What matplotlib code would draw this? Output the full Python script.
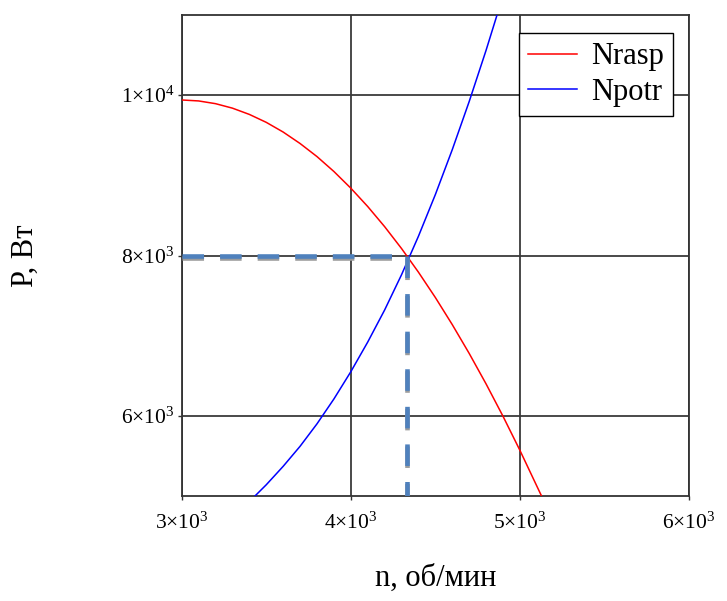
import numpy as np
import matplotlib
matplotlib.use("Agg")
import matplotlib.pyplot as plt
import matplotlib.patheffects as pe
from matplotlib.ticker import FuncFormatter

plt.rcParams["font.family"] = ["Liberation Serif", "DejaVu Serif"]
plt.rcParams["mathtext.fontset"] = "custom"
plt.rcParams["mathtext.rm"] = "Liberation Serif"
plt.rcParams["mathtext.it"] = "Liberation Serif:italic"

# частота вращения, об/мин
n_rasp = [3000, 3100, 3200, 3300, 3400, 3500, 3600, 3700, 3800, 3900, 4000,
          4100, 4200, 4300, 4400, 4500, 4600, 4700, 4800, 4900, 5000, 5100, 5200]
# располагаемая мощность, Вт
N_rasp = [9940, 9928, 9894, 9838, 9760, 9661, 9540, 9397, 9234, 9048, 8840,
          8611, 8360, 8087, 7792, 7476, 7138, 6779, 6398, 5995, 5570, 5124, 4680]

n_potr = [3400, 3500, 3600, 3700, 3800, 3900, 4000, 4100, 4200, 4300,
          4400, 4500, 4600, 4700, 4800, 4900]
# потребная мощность, Вт
N_potr = [4930, 5140, 5370, 5620, 5900, 6210, 6550, 6920, 7320, 7760,
          8240, 8760, 9320, 9920, 10560, 11240]

# рабочая точка
n_op = 4335
P_op = 8000

x_ticks = [3000, 4000, 5000, 6000]
y_ticks = [6000, 8000, 10000]


def sci(v, pos):
    e = int(np.floor(np.log10(v)))
    m = v / 10 ** e
    return r"$%g{\times}10^{%d}$" % (m, e)


fig = plt.figure(figsize=(7.27, 6.01), dpi=100)
ax = fig.add_axes([181.7 / 727, 1 - 496 / 601, (689 - 181.7) / 727, (496 - 15) / 601])

ax.plot(n_rasp, N_rasp, color="red", lw=1.1, label="Nrasp", zorder=3)
ax.plot(n_potr, N_potr, color="blue", lw=1.1, label="Npotr", zorder=3)

# пунктир к рабочей точке
shadow = [pe.SimpleLineShadow(offset=(0, -2), shadow_color="#9c9c9c", alpha=1), pe.Normal()]
ax.plot([x_ticks[0], n_op], [P_op, P_op], color="#4f81bd", lw=3.3, dashes=(4.7, 3.5),
        dash_capstyle="butt", path_effects=shadow, zorder=4)
ax.plot([n_op, n_op], [P_op, 5000], color="#4f81bd", lw=3.3, dashes=(4.7, 3.5),
        dash_capstyle="butt", path_effects=shadow, zorder=4)

ax.set_xlim(3000, 6000)
ax.set_ylim(5000, 11000)
ax.set_xticks(x_ticks)
ax.set_yticks(y_ticks)
ax.xaxis.set_major_formatter(FuncFormatter(sci))
ax.yaxis.set_major_formatter(FuncFormatter(sci))
ax.tick_params(direction="out", length=3, width=1, color="#333333",
               labelsize=15.5, labelcolor="black")
ax.tick_params(axis="x", pad=9)
ax.tick_params(axis="y", pad=2)

ax.grid(True, color="#3a3a3a", lw=1.3, zorder=1)
ax.set_axisbelow(True)
for s in ax.spines.values():
    s.set_color("#333333")
    s.set_linewidth(1.3)

ax.set_xlabel("n, об/мин", fontsize=22)
ax.xaxis.label.set_verticalalignment("baseline")
ax.xaxis.set_label_coords(0.5, (496 - 586) / 481)
fig.text(25 / 727, 1 - 256 / 601, "P, Вт", rotation=90, fontsize=22,
         ha="center", va="center")

leg = ax.legend(loc="upper right", bbox_to_anchor=((672.7 - 181.7) / 507.3, (496 - 33.3) / 481),
                borderaxespad=0, fontsize=22, handlelength=1.6, handletextpad=0.45,
                labelspacing=0.2, borderpad=0.3, fancybox=False, framealpha=1)
leg.get_frame().set_edgecolor("black")
leg.get_frame().set_linewidth(1.0)

fig.savefig("out.png", dpi=100)
